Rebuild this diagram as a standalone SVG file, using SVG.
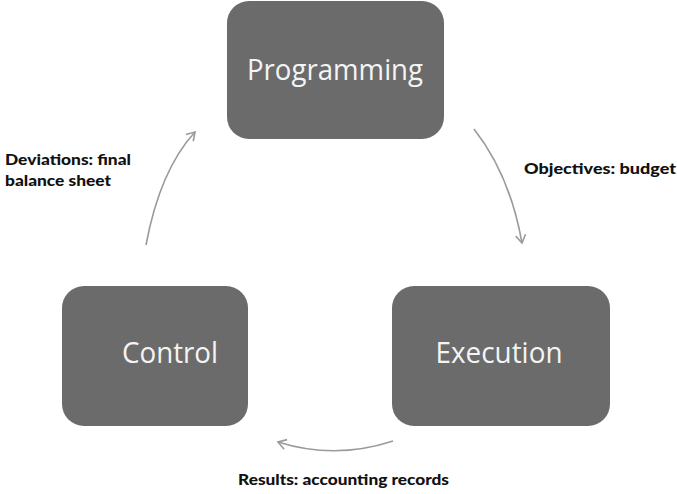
<svg xmlns="http://www.w3.org/2000/svg" width="677" height="494" viewBox="0 0 677 494">
<style>
.box{fill:#6b6b6b;}
.nt{fill:#f4f4f4;font-family:"Open Sans","Liberation Sans",sans-serif;font-size:29px;text-anchor:middle;}
.lb{fill:#111;font-family:Lato,"Liberation Sans",sans-serif;font-weight:900;font-size:15px;}
.cn{fill:none;stroke:#9a9a9a;stroke-width:1.6;marker-end:url(#ah);}
</style>
<defs>
<marker id="ah" viewBox="0 0 12 12" refX="10" refY="6" markerWidth="12" markerHeight="12" markerUnits="userSpaceOnUse" orient="auto">
<path d="M2,1 L10,6 L2,11" fill="none" stroke="#9a9a9a" stroke-width="1.6"/>
</marker>
</defs>
<rect width="677" height="494" fill="#fff"/>
<g id="programming">
<rect class="box" x="227" y="1" width="217" height="138" rx="22"/>
<text class="nt" x="335" y="80" textLength="176" lengthAdjust="spacingAndGlyphs">Programming</text>
</g>
<g id="execution">
<rect class="box" x="392" y="286" width="218" height="140" rx="22"/>
<text class="nt" x="499" y="363" textLength="127" lengthAdjust="spacingAndGlyphs">Execution</text>
</g>
<g id="control">
<rect class="box" x="62" y="286" width="186" height="140" rx="22"/>
<text class="nt" x="170" y="363" textLength="96" lengthAdjust="spacingAndGlyphs">Control</text>
</g>
<g id="connectors">
<path class="cn" d="M474,129 Q510,175 522,243"/>
<path class="cn" d="M393,441 Q335,460 278,442"/>
<path class="cn" d="M146,245 Q160,170 195,132"/>
</g>
<g id="labels">
<text class="lb" x="5" y="165" textLength="126" lengthAdjust="spacingAndGlyphs">Deviations: final</text>
<text class="lb" x="5" y="186" textLength="106" lengthAdjust="spacingAndGlyphs">balance sheet</text>
<text class="lb" x="524" y="174" textLength="152" lengthAdjust="spacingAndGlyphs">Objectives: budget</text>
<text class="lb" x="238" y="485" textLength="211" lengthAdjust="spacingAndGlyphs">Results: accounting records</text>
</g>
</svg>
